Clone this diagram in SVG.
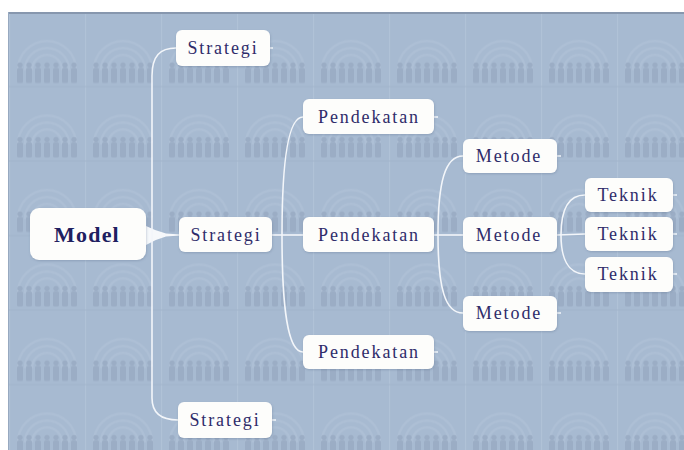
<svg xmlns="http://www.w3.org/2000/svg" width="684" height="450" viewBox="0 0 684 450">
<style>
.box{fill:#fdfdfb;}
.lbl{font-family:"Liberation Serif","Times New Roman",serif;font-size:18px;fill:#2f2c6a;text-anchor:middle;letter-spacing:1.9px;}
.main{font-family:"Liberation Serif","Times New Roman",serif;font-size:22px;font-weight:bold;fill:#1e2060;text-anchor:middle;letter-spacing:1.2px;}
.con{fill:none;stroke:#f3f6fa;stroke-width:1.6;}
</style>
<defs>
<pattern id="bg" x="9" y="14" width="76" height="74.5" patternUnits="userSpaceOnUse">
<rect width="76" height="74.5" fill="#a7bad1"/>
<line x1="0.5" y1="0" x2="0.5" y2="74.5" stroke="#b0c2d7" stroke-width="1.2"/>
<line x1="0" y1="72.5" x2="76" y2="72.5" stroke="#a2b5cc" stroke-width="1"/>
<g fill="none" stroke="#adbfd5" stroke-width="2.5">
<path d="M9,56 A29,29 0 0 1 67,56"/>
<path d="M16,56 A22,22 0 0 1 60,56"/>
<path d="M23,56 A15,15 0 0 1 53,56"/>
</g>
<g fill="#9badc5">
<circle cx="11" cy="51" r="2.6"/><rect x="8" y="54" width="6" height="15" rx="1.5"/>
<circle cx="20" cy="51" r="2.6"/><rect x="17" y="54" width="6" height="15" rx="1.5"/>
<circle cx="29" cy="51" r="2.6"/><rect x="26" y="54" width="6" height="15" rx="1.5"/>
<circle cx="38" cy="51" r="2.6"/><rect x="35" y="54" width="6" height="15" rx="1.5"/>
<circle cx="47" cy="51" r="2.6"/><rect x="44" y="54" width="6" height="15" rx="1.5"/>
<circle cx="56" cy="51" r="2.6"/><rect x="53" y="54" width="6" height="15" rx="1.5"/>
<circle cx="65" cy="51" r="2.6"/><rect x="62" y="54" width="6" height="15" rx="1.5"/>
</g>
</pattern>
<filter id="sh" x="-10%" y="-20%" width="120%" height="140%">
<feDropShadow dx="0.5" dy="1" stdDeviation="0.8" flood-color="#5c6f8a" flood-opacity="0.35"/>
</filter>
</defs>
<rect width="684" height="450" fill="#ffffff"/>
<rect x="8" y="12" width="676" height="438" fill="url(#bg)"/>
<line x1="8" y1="13" x2="684" y2="13" stroke="#8797ae" stroke-width="2"/>
<line x1="8.5" y1="12" x2="8.5" y2="450" stroke="#97a9c0" stroke-width="1"/>

<g id="connectors">
<path d="M146,226 Q156,231 166,233.6 L180,234.4 L180,235.6 L166,236.4 Q156,239 146,245 Z" fill="#f6f8fb"/>
<path class="con" d="M176,48 C160,48 152,56 152,76 L152,398 C152,412 160,420 178,420"/>
<path class="con" d="M272,235 L303,235"/>
<path class="con" d="M282,235 C282,160 288,117 303,117"/>
<path class="con" d="M282,235 C282,310 288,352 303,352"/>
<path class="con" d="M434,235 L463,235"/>
<path class="con" d="M438,235 C438,182 445,156 463,156"/>
<path class="con" d="M438,235 C438,288 445,313 463,313"/>
<path class="con" d="M557,235 L585,234"/>
<path class="con" d="M561,235 C561,210 568,195 585,195"/>
<path class="con" d="M561,235 C561,258 568,274 585,274"/>
<path class="con" d="M269,48 L273,48 M272,420 L276,420 M434,117 L438,117 M434,352 L438,352 M557,156 L561,156 M557,313 L561,313 M673,195 L677,195 M673,234 L677,234 M673,274 L677,274"/>
</g>

<g id="model"><rect class="box" x="30" y="208" width="116" height="52" rx="9" filter="url(#sh)"/><text class="main" x="87" y="242">Model</text></g>
<g id="strategi1"><rect class="box" x="176" y="30" width="94" height="36" rx="6" filter="url(#sh)"/><text class="lbl" x="223" y="54">Strategi</text></g>
<g id="strategi2"><rect class="box" x="179" y="217" width="93" height="35" rx="6" filter="url(#sh)"/><text class="lbl" x="226" y="241">Strategi</text></g>
<g id="strategi3"><rect class="box" x="178" y="402" width="94" height="36" rx="6" filter="url(#sh)"/><text class="lbl" x="225" y="426">Strategi</text></g>
<g id="pendekatan1"><rect class="box" x="303" y="99" width="131" height="35" rx="6" filter="url(#sh)"/><text class="lbl" x="369" y="123">Pendekatan</text></g>
<g id="pendekatan2"><rect class="box" x="303" y="217" width="131" height="35" rx="6" filter="url(#sh)"/><text class="lbl" x="369" y="241">Pendekatan</text></g>
<g id="pendekatan3"><rect class="box" x="303" y="335" width="131" height="34" rx="6" filter="url(#sh)"/><text class="lbl" x="369" y="358">Pendekatan</text></g>
<g id="metode1"><rect class="box" x="463" y="139" width="94" height="34" rx="6" filter="url(#sh)"/><text class="lbl" x="509" y="162">Metode</text></g>
<g id="metode2"><rect class="box" x="463" y="217" width="94" height="35" rx="6" filter="url(#sh)"/><text class="lbl" x="509" y="241">Metode</text></g>
<g id="metode3"><rect class="box" x="463" y="296" width="94" height="35" rx="6" filter="url(#sh)"/><text class="lbl" x="509" y="319">Metode</text></g>
<g id="teknik1"><rect class="box" x="585" y="178" width="88" height="34" rx="6" filter="url(#sh)"/><text class="lbl" x="628" y="201">Teknik</text></g>
<g id="teknik2"><rect class="box" x="585" y="217" width="88" height="34" rx="6" filter="url(#sh)"/><text class="lbl" x="628" y="240">Teknik</text></g>
<g id="teknik3"><rect class="box" x="585" y="257" width="88" height="35" rx="6" filter="url(#sh)"/><text class="lbl" x="628" y="280">Teknik</text></g>
</svg>
